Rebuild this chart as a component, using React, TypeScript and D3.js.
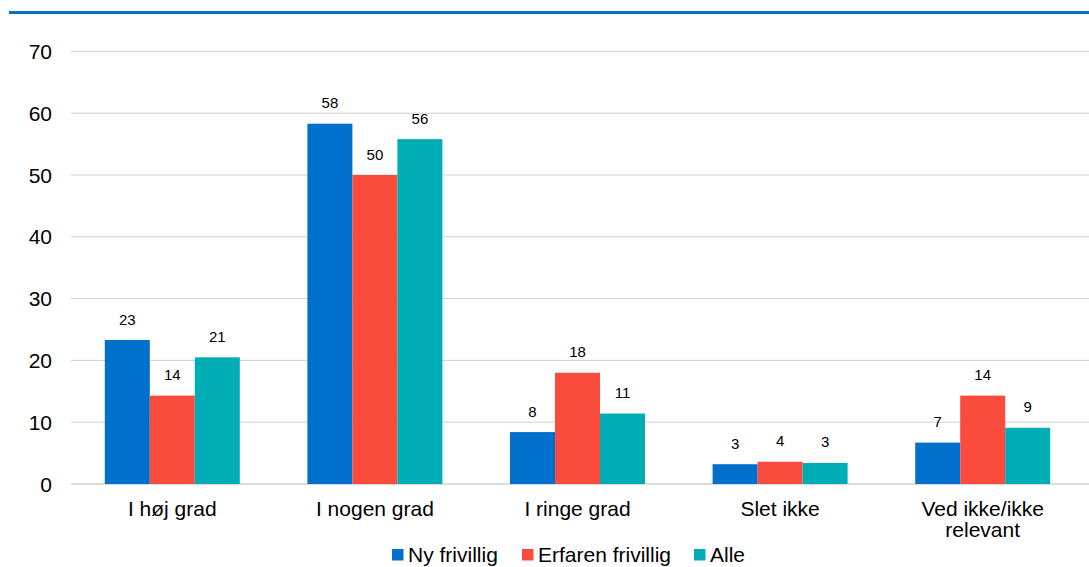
import React from "react";
import * as d3 from "d3";

const categories = ["I høj grad", "I nogen grad", "I ringe grad", "Slet ikke", "Ved ikke/ikke relevant"];
const categoryLines = [["I høj grad"], ["I nogen grad"], ["I ringe grad"], ["Slet ikke"], ["Ved ikke/ikke", "relevant"]];
const seriesNames = ["Ny frivillig", "Erfaren frivillig", "Alle"];
const nyFrivillig = [23.3, 58.3, 8.4, 3.2, 6.7];
const erfarenFrivillig = [14.3, 50.0, 18.0, 3.6, 14.3];
const alle = [20.5, 55.8, 11.4, 3.4, 9.1];
const yTicks = [0, 10, 20, 30, 40, 50, 60, 70];
const colors = ["#0070CC", "#F94C3D", "#00ADB5"];

const W = 1089, H = 567;
const FONT = "'Liberation Sans', Arial, sans-serif";

export default function App() {
  const series = [nyFrivillig, erfarenFrivillig, alle];
  const x0 = d3.scaleBand<string>().domain(categories).range([71, 1084]).paddingInner(0).paddingOuter(0);
  const barW = 45;
  const y = d3.scaleLinear().domain([0, 70]).range([484, 51.4]);
  const legendX = [392, 522, 694];

  return (
    <svg width={W} height={H} style={{ position: "absolute", left: 0, top: 0, background: "#fff" }} fontFamily={FONT}>
      <rect x={9} y={11} width={W - 9} height={3} fill="#0070CC" />
      {yTicks.map((t) => (
        <g key={t}>
          <line x1={71} x2={W} y1={y(t)} y2={y(t)} stroke="#D0D0D0" strokeWidth={t === 0 ? 1.5 : 1} />
          <text x={52} y={y(t) + 7.5} fontSize={21} textAnchor="end" fill="#000">{t}</text>
        </g>
      ))}
      {categories.map((c, ci) => {
        const cx = (x0(c) as number) + x0.bandwidth() / 2;
        return (
          <g key={c}>
            {series.map((s, si) => {
              const bx = cx - 1.5 * barW + si * barW;
              return (
                <g key={si}>
                  <rect x={bx} y={y(s[ci])} width={barW} height={y(0) - y(s[ci])} fill={colors[si]} />
                  <text x={bx + barW / 2} y={y(s[ci]) - 15.5} fontSize={15} textAnchor="middle" fill="#000">
                    {Math.round(s[ci])}
                  </text>
                </g>
              );
            })}
            {categoryLines[ci].map((ln, li) => (
              <text key={li} x={cx} y={515.5 + li * 21.5} fontSize={21} textAnchor="middle" fill="#000">{ln}</text>
            ))}
          </g>
        );
      })}
      {seriesNames.map((n, i) => (
        <g key={n}>
          <rect x={legendX[i]} y={549} width={11.5} height={11.5} fill={colors[i]} />
          <text x={legendX[i] + 16} y={562} fontSize={21} fill="#000">{n}</text>
        </g>
      ))}
    </svg>
  );
}
